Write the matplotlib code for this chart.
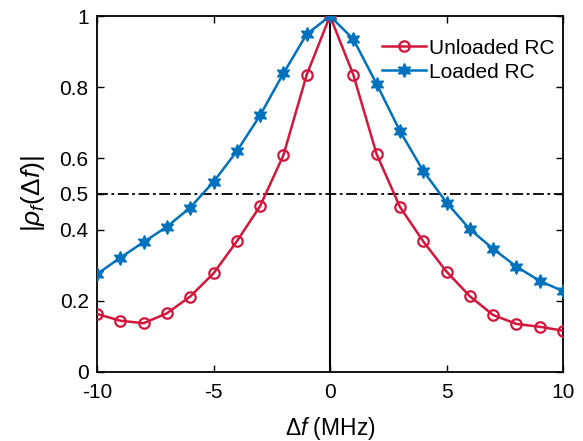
import matplotlib
matplotlib.use("Agg")
import matplotlib.pyplot as plt

plt.rcParams['font.family'] = ['Liberation Sans', 'DejaVu Sans']
plt.rcParams['mathtext.fontset'] = 'custom'
plt.rcParams['mathtext.rm'] = 'Liberation Sans'
plt.rcParams['mathtext.it'] = 'Liberation Sans:italic'

# data
freq_mhz = [-10, -9, -8, -7, -6, -5, -4, -3, -2, -1, 0,
            1, 2, 3, 4, 5, 6, 7, 8, 9, 10]
unloaded_rc = [0.163, 0.144, 0.137, 0.165, 0.212, 0.277, 0.367, 0.466, 0.609, 0.835, 1.0,
               0.835, 0.612, 0.464, 0.367, 0.282, 0.213, 0.160, 0.135, 0.127, 0.116]
loaded_rc = [0.275, 0.321, 0.365, 0.408, 0.462, 0.534, 0.620, 0.721, 0.839, 0.949, 1.0,
             0.935, 0.809, 0.677, 0.565, 0.476, 0.401, 0.346, 0.296, 0.256, 0.227]
y_ticks = [0, 0.2, 0.4, 0.5, 0.6, 0.8, 1]
y_tick_labels = ['0', '0.2', '0.4', '0.5', '0.6', '0.8', '1']
x_ticks = [-10, -5, 0, 5, 10]

RED = '#D4163C'
BLUE = '#0072BD'

fig = plt.figure(figsize=(5.83, 4.41), dpi=100)
ax = fig.add_axes([0.1664, 0.1565, 0.7993, 0.8072])

ax.axvline(0, color='black', lw=1.5, zorder=1)
ax.axhline(0.5, color='black', lw=1.3, ls='-.', dashes=(6, 2, 1.5, 2), zorder=1)

ax.plot(freq_mhz, unloaded_rc, color=RED, lw=1.8, marker='o', ms=7.5,
        mfc='none', mec=RED, mew=1.6, label='Unloaded RC', zorder=3)
ax.plot(freq_mhz, loaded_rc, color=BLUE, lw=1.8, marker=(6, 1, 0), ms=10,
        mfc=BLUE, mec=BLUE, label='Loaded RC', zorder=3)

ax.set_xlim(-10, 10)
ax.set_ylim(0, 1)
ax.set_xticks(x_ticks)
ax.set_xticklabels([str(t) for t in x_ticks])
ax.set_yticks(y_ticks)
ax.set_yticklabels(y_tick_labels)
ax.tick_params(direction='in', length=5, width=1, labelsize=15,
               top=True, right=True, pad=6)
ax.tick_params(axis='x', pad=8)
for s in ax.spines.values():
    s.set_linewidth(1.3)

ax.set_xlabel(r'$\Delta f$ (MHz)', fontsize=16.5, labelpad=9)
ax.set_ylabel(r'$|\rho_f(\Delta f)|$', fontsize=19, labelpad=9)

ax.legend(loc='upper right', bbox_to_anchor=(1.0, 0.96), frameon=False,
          fontsize=15, handlelength=2.1, handletextpad=0.15, borderpad=0.2,
          borderaxespad=0.2, labelspacing=0.25)

fig.savefig('out.png', dpi=100)
